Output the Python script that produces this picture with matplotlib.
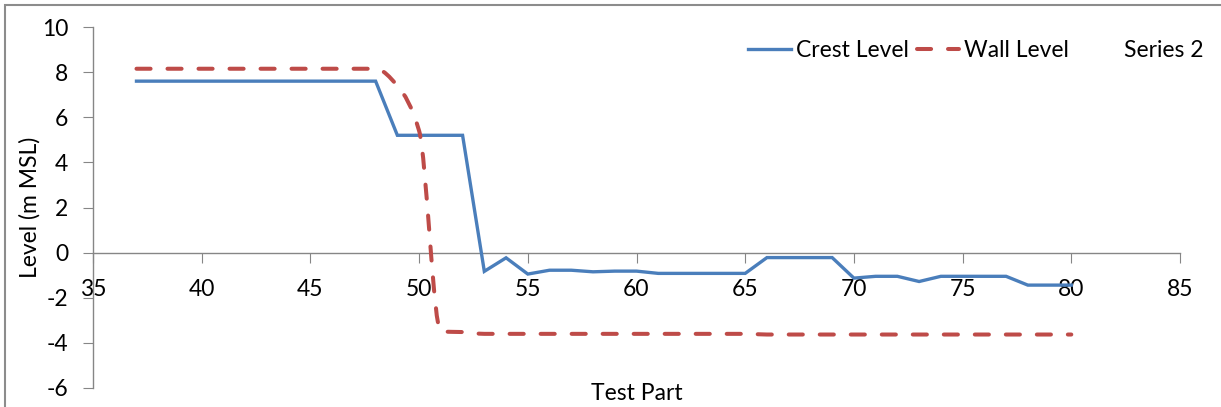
import numpy as np
import matplotlib
matplotlib.use("Agg")
import matplotlib.pyplot as plt
from matplotlib.path import Path
from matplotlib.patches import PathPatch, Rectangle
from matplotlib.lines import Line2D

# data
test_part = list(range(37, 81))
crest_level = ([7.6] * 12 + [5.2] * 4 +
               [-0.83, -0.23, -0.95, -0.78, -0.78, -0.85, -0.82, -0.82, -0.92, -0.92,
                -0.92, -0.92, -0.92, -0.22, -0.22, -0.22, -0.22, -1.13, -1.05, -1.05,
                -1.28, -1.05, -1.05, -1.05, -1.05, -1.44, -1.44, -1.44])
wall_level = ([8.15] * 12 + [7.4, 5.4, -3.5, -3.52, -3.6] +
              [-3.6] * 12 + [-3.63] * 15)

y_ticks = list(range(-6, 11, 2))
x_ticks = list(range(35, 86, 5))

BLUE = "#4A7EBB"
RED = "#BE4B48"
AXIS = "#868686"
FS = 16.5

plt.rcParams['font.family'] = ['Lato', 'DejaVu Sans']
plt.rcParams['axes.unicode_minus'] = False


def smooth_path(xs, ys):
    # monotone cubic bezier through the points (smoothed line, no overshoot)
    x = np.asarray(xs, float)
    y = np.asarray(ys, float)
    h = np.diff(x)
    d = np.diff(y) / h
    m = np.zeros_like(y)
    m[0], m[-1] = d[0], d[-1]
    for i in range(1, len(y) - 1):
        if d[i - 1] * d[i] > 0:
            w1 = 2 * h[i] + h[i - 1]
            w2 = h[i] + 2 * h[i - 1]
            m[i] = (w1 + w2) / (w1 / d[i - 1] + w2 / d[i])
    verts = [(x[0], y[0])]
    codes = [Path.MOVETO]
    for i in range(len(x) - 1):
        dx = h[i] / 3
        verts += [(x[i] + dx, y[i] + m[i] * dx),
                  (x[i + 1] - dx, y[i + 1] - m[i + 1] * dx),
                  (x[i + 1], y[i + 1])]
        codes += [Path.CURVE4] * 3
    return Path(verts, codes)


fig = plt.figure(figsize=(12.21, 4.07), dpi=100)
ax = fig.add_axes([93 / 1221, 1 - 388 / 407, (1180 - 93) / 1221, (388 - 27) / 407])

ax.plot(test_part, crest_level, color=BLUE, lw=2.4, solid_joinstyle='miter', zorder=3)

dash = (0, (3.5, 4.2))
wall = PathPatch(smooth_path(test_part, wall_level), fill=False, edgecolor=RED, lw=2.9,
                 linestyle=dash, capstyle='round', zorder=3)
ax.add_patch(wall)

ax.set_xlim(35, 85)
ax.set_ylim(-6, 10)
ax.set_xticks(x_ticks)
ax.set_yticks(y_ticks)

ax.spines['top'].set_visible(False)
ax.spines['right'].set_visible(False)
ax.spines['bottom'].set_position(('data', 0))
for s in ('left', 'bottom'):
    ax.spines[s].set_color(AXIS)
    ax.spines[s].set_linewidth(1.0)
ax.tick_params(axis='y', direction='out', length=7, color=AXIS, labelsize=FS, pad=11)
ax.tick_params(axis='x', direction='out', length=7, color=AXIS, labelsize=FS, pad=12)

ax.set_ylabel("Level (m MSL)", fontsize=FS, labelpad=1)
ax.set_xlabel("Test Part", fontsize=FS)
ax.xaxis.set_label_coords(0.5, 0.014)

handles = [Line2D([], [], color=BLUE, lw=2.4),
           Line2D([], [], color=RED, lw=2.9, linestyle=dash, dash_capstyle='round'),
           Line2D([], [], color='none')]
ax.legend(handles, ["Crest Level", "Wall Level", "Series 2"], ncol=3, frameon=False,
          fontsize=FS, loc='upper right', bbox_to_anchor=(1204 / 1221, 1 - 40 / 407),
          bbox_transform=fig.transFigure, borderpad=0, borderaxespad=0,
          handlelength=1.85, handletextpad=0.22, columnspacing=0.35)

# outer chart border (only top/left edges show in the picture)
fig.patches.append(Rectangle((5 / 1221, -0.5), 2, 0.5 + 1 - 5 / 407, transform=fig.transFigure,
                             fill=False, edgecolor="#8C8C8C", lw=1.5))

fig.savefig("out.png", dpi=100)
